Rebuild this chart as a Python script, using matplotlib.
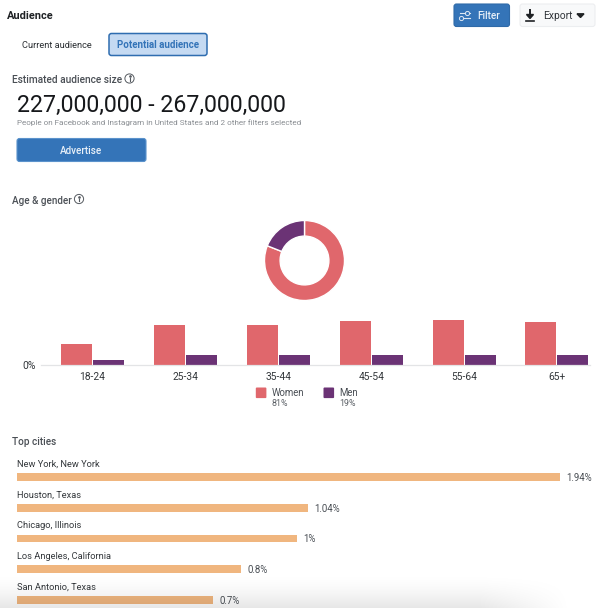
import matplotlib
matplotlib.use("Agg")
import matplotlib.pyplot as plt
import numpy as np
from matplotlib.patches import Circle, FancyBboxPatch, Polygon

plt.rcParams["font.family"] = ["Roboto", "DejaVu Sans"]

W, H = 600, 608

age_groups = ["18-24", "25-34", "35-44", "45-54", "55-64", "65+"]
women_pct = [7.4, 13.9, 13.7, 15.3, 15.6, 15.0]
men_pct = [1.9, 3.7, 3.4, 3.4, 3.5, 3.4]
gender_labels = ["Women", "Men"]
gender_totals = [81, 19]
cities = ["New York, New York", "Houston, Texas", "Chicago, Illinois",
          "Los Angeles, California", "San Antonio, Texas"]
city_pct = [1.94, 1.04, 1.0, 0.8, 0.7]
city_labels = ["1.94%", "1.04%", "1%", "0.8%", "0.7%"]

WOMEN = "#E0676C"
MEN = "#6B3375"
CITY = "#F0B67F"
BLUE = "#3474B8"
DARK = "#1F2225"
GREY = "#4A4F55"


def px_axes(fig, left, top, right, bottom):
    """Axes placed by pixel box, y measured from the top of the image."""
    return fig.add_axes([left / W, 1 - bottom / H, (right - left) / W, (bottom - top) / H])


def button(ax, x0, y0, x1, y1, face, edge, lw=0.8):
    ax.add_patch(FancyBboxPatch((x0 + 2, y0 + 2), x1 - x0 - 4, y1 - y0 - 4,
                                boxstyle="round,pad=2,rounding_size=2.5",
                                facecolor=face, edgecolor=edge, linewidth=lw))


def info_icon(ax, x, y):
    ax.add_patch(Circle((x, y), 4.6, facecolor="white", edgecolor="#555A60", linewidth=0.7))
    ax.plot([x, x], [y - 0.4, y + 2.3], color="#555A60", lw=0.8)
    ax.plot([x], [y - 2.1], marker="o", ms=0.9, color="#555A60")


fig = plt.figure(figsize=(W / 100, H / 100), dpi=100, facecolor="white")

# page furniture, drawn in image pixels
ui = fig.add_axes([0, 0, 1, 1], zorder=1)
ui.set_xlim(0, W)
ui.set_ylim(H, 0)
ui.axis("off")

ui.text(7, 16, "Audience", fontsize=7.9, fontweight="semibold", color=DARK, va="center")

button(ui, 454, 4, 509.5, 26.5, BLUE, "#2F6AA8")
for yy, kx in [(13, 467), (17.5, 461)]:
    ui.plot([459.5, 469.5], [yy, yy], color="#DCE7F3", lw=0.8)
    ui.plot([kx], [yy], marker="o", ms=3, mfc=BLUE, mec="#DCE7F3", mew=0.7)
ui.text(477, 16, "Filter", fontsize=7.2, fontweight="medium", color="#E8F0F8", va="center")

button(ui, 520, 4, 595, 26.5, "#F8F9FA", "#ECEEF0")
ui.plot([530, 530], [10, 16], color=DARK, lw=1.4)
ui.add_patch(Polygon([[526.5, 14.5], [533.5, 14.5], [530, 18.5]], color=DARK))
ui.plot([526, 534], [20.5, 20.5], color=DARK, lw=1.2)
ui.text(543.5, 16, "Export", fontsize=7.4, color="#2F3338", va="center")
ui.add_patch(Polygon([[577, 13.8], [584, 13.8], [580.5, 17.5]], color=DARK))

ui.text(22, 45.5, "Current audience", fontsize=6.7, color="#2B2F33", va="center")
button(ui, 109, 33.5, 207, 55.5, "#C5DAF2", "#2F6DB0", lw=1.1)
ui.text(158, 45.5, "Potential audience", fontsize=7.0, fontweight="semibold", color=BLUE,
        va="center", ha="center")

ui.text(12, 80, "Estimated audience size", fontsize=7.25, fontweight="medium", color=GREY, va="center")
info_icon(ui, 129.5, 78.5)
ui.text(17, 105.5, "227,000,000 - 267,000,000", fontsize=16.7, color="#16181B", va="center")
ui.text(17, 123, "People on Facebook and Instagram in United States and 2 other filters selected",
        fontsize=5.85, color="#8A8E93", va="center")
button(ui, 17, 138.5, 146, 161.5, BLUE, "#5B93CC")
ui.text(81, 150.5, "Advertise", fontsize=7.1, fontweight="medium", color="#E8F0F8", va="center", ha="center")

ui.text(12, 200.5, "Age & gender", fontsize=7.15, fontweight="medium", color=GREY, va="center")
info_icon(ui, 79, 199)
ui.text(12, 442, "Top cities", fontsize=7.2, fontweight="medium", color=GREY, va="center")

# legend under the age chart
for x0, x_text, col, name, total in zip([255.8, 323.5], [272, 339], [WOMEN, MEN],
                                        gender_labels, gender_totals):
    ui.add_patch(FancyBboxPatch((x0 + 1, 388.5), 8.6, 8.6, boxstyle="round,pad=1,rounding_size=1",
                                facecolor=col, edgecolor="none"))
    ui.text(x_text, 393, name, fontsize=6.9, color=GREY, va="center")
    ui.text(x_text, 404, f"{total}%", fontsize=6.4, color="#5C6167", va="center")

# donut
donut = px_axes(fig, 262, 218, 347, 303)
donut.set_zorder(2)
donut.pie([gender_totals[0], gender_totals[1]], colors=[WOMEN, MEN], startangle=90, counterclock=False,
          radius=1.0, wedgeprops={"width": 0.39, "edgecolor": "white", "linewidth": 1.0})
donut.set_xlim(-42.5 / 40, 42.5 / 40)
donut.set_ylim(-42.5 / 40, 42.5 / 40)

# age and gender bars
age = px_axes(fig, 41, 310, 590, 365.3)
age.set_zorder(2)
age.patch.set_alpha(0)
x = np.arange(len(age_groups))
age.bar(x - 0.172, women_pct, width=0.334, color=WOMEN)
age.bar(x + 0.172, men_pct, width=0.334, color=MEN)
age.set_xlim(-0.554, 5.356)
age.set_ylim(0, 19)
age.set_xticks(x, age_groups, fontsize=7.4, color="#33373B")
age.set_yticks([0], ["0%"], fontsize=7.4, color="#33373B")
age.tick_params(axis="both", length=0)
age.tick_params(axis="x", pad=4.5)
age.tick_params(axis="y", pad=4)
for side in ["top", "right", "left"]:
    age.spines[side].set_visible(False)
age.spines["bottom"].set_color("#E3E4E6")
age.spines["bottom"].set_linewidth(0.9)

# top cities
top = px_axes(fig, 17, 470, 600, 608)
top.set_zorder(2)
top.patch.set_alpha(0)
pos = np.arange(len(cities))
top.barh(pos, city_pct, height=0.25, color=CITY)
top.set_xlim(0, 583 / 280)
top.set_ylim(131 / 30.7, -7 / 30.7)
top.axis("off")
for p, v, name, lab in zip(pos, city_pct, cities, city_labels):
    top.text(0, p - 0.42, name, fontsize=6.7, color="#33373B", va="center", clip_on=False)
    top.text(v + 0.022, p + 0.03, lab, fontsize=6.9, color=GREY, va="center")

# soft shadow along the bottom edge of the screenshot
shade = fig.add_axes([0, 0, 1, 1], zorder=5)
shade.axis("off")
yy, xx = np.mgrid[0:H, 0:W]
alpha = np.clip((yy - 572) / 36, 0, 1) ** 1.6 * np.clip((570 - xx) / 90, 0, 1) * 0.1
rgba = np.zeros((H, W, 4))
rgba[..., 3] = alpha
shade.imshow(rgba, extent=(0, W, H, 0), aspect="auto")

fig.savefig("out.png", dpi=100)
